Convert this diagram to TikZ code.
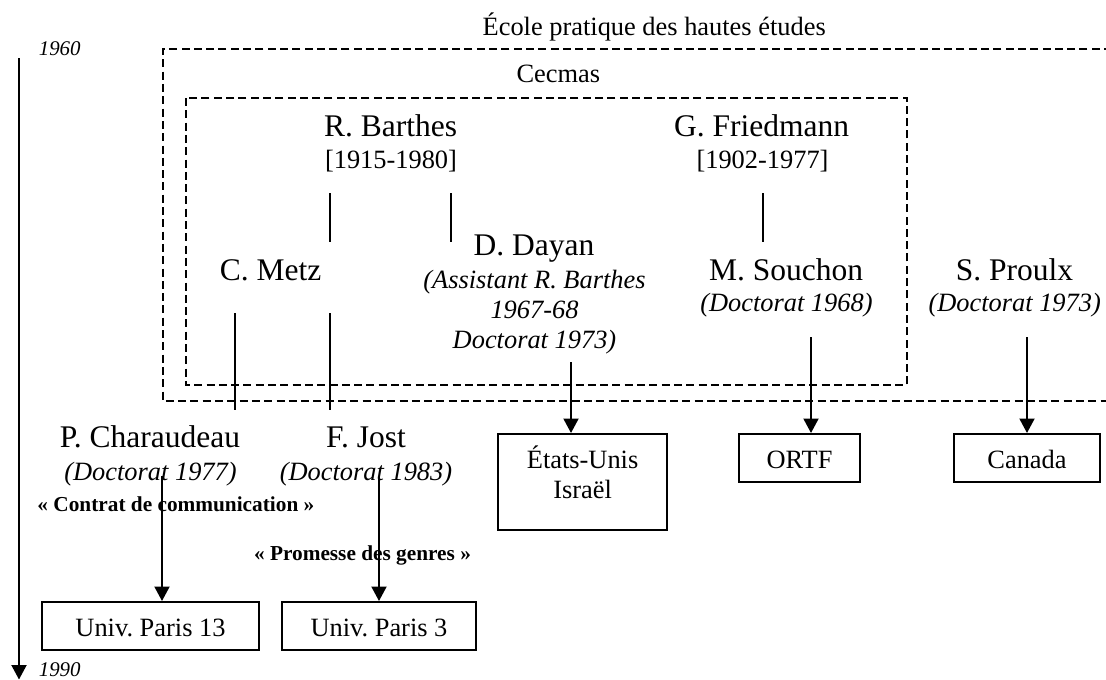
\documentclass[tikz,border=0pt]{standalone}
\usepackage{fontspec}
\setmainfont{Liberation Serif}
\usetikzlibrary{arrows.meta}
\begin{document}
\frenchspacing
\begin{tikzpicture}[x=1pt,y=-1pt,
  big/.style={font=\fontsize{31.5}{36}\selectfont, inner sep=0pt, anchor=base},
  sm/.style={font=\fontsize{26.4}{30}\selectfont, inner sep=0pt, anchor=base},
  smit/.style={font=\fontsize{26.4}{30}\selectfont\itshape, inner sep=0pt, anchor=base},
  lbl/.style={font=\fontsize{21.3}{24}\selectfont\bfseries, inner sep=0pt, anchor=base},
  yr/.style={font=\fontsize{20.9}{24}\selectfont\itshape, inner sep=0pt, anchor=base west},
  box/.style={draw, line width=2pt, inner sep=0pt, font=\fontsize{26.4}{30}\selectfont,
    minimum height=48pt, text height=20.7pt, text depth=0pt},
  arr/.style={line width=2pt, -{Triangle[width=15pt,length=14.5pt]}},
  dashbox/.style={dash pattern=on 8pt off 4.3pt, line width=2pt},
  link/.style={line width=2pt}]
\useasboundingbox (0,0) rectangle (1106,680);

% institutional frames
\draw[dashbox] (1112,49) -- (163,49) -- (163,401) -- (1112,401);
\draw[dashbox] (186,98) rectangle (907,385);

% timeline
\node[yr] (y1960) at (38.6,55) {1960};
\node[yr] (y1990) at (38.6,676) {1990};
\coordinate (t0) at (19,58);
\coordinate (t1) at (19,679.5);
\draw[arr] (t0) -- (t1);

% frame titles
\node[sm] (ephe) at (654.2,35) {École pratique des hautes études};
\node[sm] (cecmas) at (558.3,82) {Cecmas};

% people
\node[big] (barthes) at (390.5,136) {R. Barthes};
\node[sm] (barthesd) at (391,168) {[1915-1980]};
\node[big] (friedmann) at (761.6,136) {G. Friedmann};
\node[sm] (friedmannd) at (762.5,168) {[1902-1977]};
\node[big] (metz) at (270.5,280) {C. Metz};
\node[big] (dayan) at (534,255) {D. Dayan};
\node[smit] (dayan1) at (534.5,288) {(Assistant R. Barthes};
\node[smit] (dayan2) at (534.5,318) {1967-68};
\node[smit] (dayan3) at (534.5,348) {Doctorat 1973)};
\node[big] (souchon) at (786,280) {M. Souchon};
\node[smit] (souchond) at (786.4,311) {(Doctorat 1968)};
\node[big] (proulx) at (1014.4,280) {S. Proulx};
\node[smit] (proulxd) at (1014.7,311) {(Doctorat 1973)};
\node[big] (charaudeau) at (150,447.3) {P. Charaudeau};
\node[smit] (charaudeaud) at (150.5,480) {(Doctorat 1977)};
\node[big] (jost) at (366,447.3) {F. Jost};
\node[smit] (jostd) at (366,480) {(Doctorat 1983)};
\node[lbl] (contrat) at (175.9,511.7) {« Contrat de communication »};
\node[lbl] (promesse) at (362.5,560) {« Promesse des genres »};

% destination boxes
\node[box, minimum width=217pt] (u13) at (150.5,626) {Univ. Paris 13};
\node[box, minimum width=194pt] (u3) at (379,626) {Univ. Paris 3};
\node[box, minimum width=121pt] (ortf) at (799.5,458) {ORTF};
\node[box, minimum width=146pt] (canada) at (1027,458) {Canada};
\node[draw, line width=2pt, inner sep=0pt, minimum width=169pt,
  minimum height=96pt] (usa) at (582.5,482) {};
\node[sm] (usa1) at (582.6,468.3) {États-Unis};
\node[sm] (usa2) at (582.6,498.3) {Israël};

% filiation lines
\coordinate (b1a) at (330,193); \coordinate (b1b) at (330,242);
\coordinate (b2a) at (451,193); \coordinate (b2b) at (451,242);
\coordinate (f1a) at (763,193); \coordinate (f1b) at (763,242);
\coordinate (m1a) at (235,313); \coordinate (m1b) at (235,410);
\coordinate (m2a) at (330,313); \coordinate (m2b) at (330,410);
\draw[link] (b1a) -- (b1b);
\draw[link] (b2a) -- (b2b);
\draw[link] (f1a) -- (f1b);
\draw[link] (m1a) -- (m1b);
\draw[link] (m2a) -- (m2b);

% arrows to destinations
\coordinate (ac) at (162,476);
\coordinate (aj) at (379,476);
\coordinate (ad) at (571,362);
\coordinate (as) at (811,337);
\coordinate (ap) at (1027,337);
\draw[arr] (ac) -- (ac |- u13.north);
\draw[arr] (aj) -- (aj |- u3.north);
\draw[arr] (ad) -- (ad |- usa.north);
\draw[arr] (as) -- (as |- ortf.north);
\draw[arr] (ap) -- (ap |- canada.north);
\end{tikzpicture}
\end{document}
